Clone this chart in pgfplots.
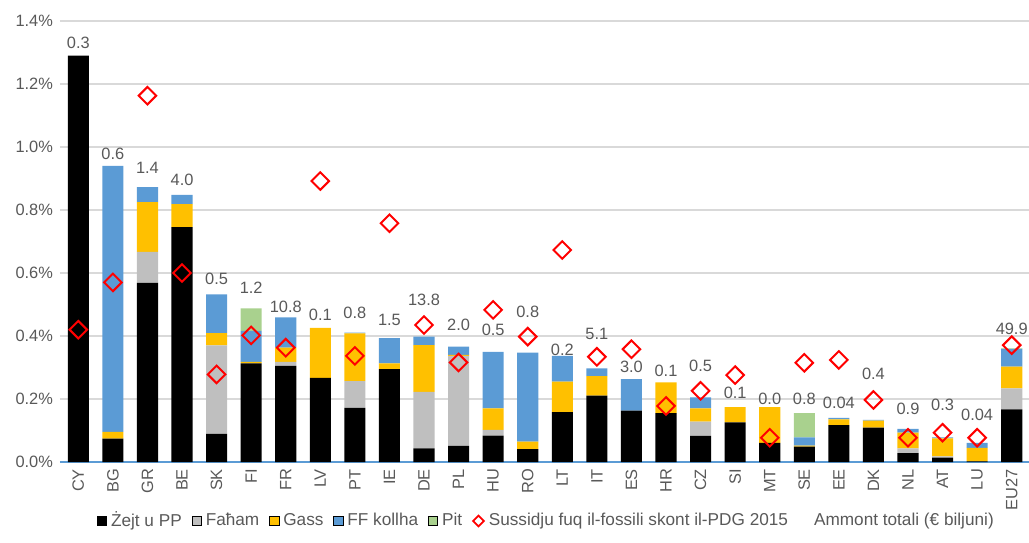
\documentclass[border=0pt]{standalone}
\usepackage{pgfplots}
\usepackage{pgfplotstable}
\pgfplotsset{compat=1.18}
\usepackage{fontspec}
\setmainfont{Liberation Sans}

\definecolor{cgray}{HTML}{BFBFBF}
\definecolor{cgas}{HTML}{FFC000}
\definecolor{cblue}{HTML}{5B9BD5}
\definecolor{cpit}{HTML}{A9D18E}
\definecolor{txt}{HTML}{595959}
\definecolor{gridc}{HTML}{D9D9D9}

% x: 0..27 = CY ... EU27
\pgfplotstableread{
x  blk    gry    gas    ff     pit    sub    ly     lab
0  1.290  0      0      0      0      0.420  1.330  0.3
1  0.074  0      0.022  0.844  0      0.570  0.978  0.6
2  0.569  0.098  0.158  0.048  0      1.163  0.933  1.4
3  0.746  0      0.073  0.029  0      0.600  0.895  4.0
4  0.089  0.281  0.039  0.123  0      0.278  0.581  0.5
5  0.313  0      0.005  0.098  0.072  0.402  0.552  1.2
6  0.305  0.013  0.045  0.096  0      0.363  0.492  10.8
7  0.267  0      0.159  0      0      0.892  0.467  0.1
8  0.172  0.085  0.151  0.003  0      0.337  0.473  0.8
9  0.295  0      0.018  0.080  0      0.758  0.451  1.5
10 0.043  0.180  0.148  0.027  0      0.435  0.514  13.8
11 0.051  0.286  0.003  0.026  0      0.316  0.435  2.0
12 0.084  0.018  0.068  0.180  0      0.483  0.419  0.5
13 0.041  0      0.024  0.282  0      0.398  0.476  0.8
14 0.158  0      0.097  0.082  0      0.673  0.356  0.2
15 0.211  0      0.062  0.024  0      0.334  0.406  5.1
16 0.163  0      0      0.100  0      0.358  0.302  3.0
17 0.155  0      0.098  0      0      0.178  0.289  0.1
18 0.083  0.045  0.042  0.035  0      0.226  0.305  0.5
19 0.126  0      0.048  0      0      0.276  0.219  0.1
20 0.061  0      0.113  0      0      0.077  0.200  0.0
21 0.049  0      0.003  0.026  0.077  0.315  0.200  0.8
22 0.117  0      0.018  0.005  0      0.324  0.187  0.04
23 0.109  0      0.022  0.003  0      0.197  0.279  0.4
24 0.028  0.015  0.050  0.012  0      0.077  0.168  0.9
25 0.014  0.004  0.057  0.003  0      0.093  0.181  0.3
26 0.002  0      0.043  0.016  0      0.077  0.149  0.04
27 0.167  0.067  0.069  0.056  0.002  0.371  0.422  49.9
}\data

\pgfplotsset{
  base/.style={
    scale only axis, width=484.5pt, height=220.5pt,
    at={(0,0)}, anchor=south west,
    xmin=-0.53, xmax=27.5, ymin=0, ymax=1.4,
    clip=false,
  },
  sq/.style={legend image code/.code={\fill[##1] (0pt,-2.3pt) rectangle (4.6pt,2.3pt);}},
  dia/.style={legend image code/.code={\draw[red, line width=0.9pt] (0pt,0pt) -- (2.7pt,2.7pt) -- (5.4pt,0pt) -- (2.7pt,-2.7pt) -- cycle;}},
}
\newcommand{\fnt}{\fontsize{8.2}{9.8}\selectfont}
\newcommand{\lfnt}{\fontsize{8.6}{10}\selectfont}

\begin{document}
\begin{tikzpicture}
\path[use as bounding box] (-30pt,-40pt) rectangle (484.5pt,231pt);
\begin{axis}[base,
  ybar stacked, bar width=0.61,
  axis x line*=bottom, axis y line*=left,
  x axis line style={cblue, line width=0.6pt},
  y axis line style={draw=none},
  xtick=data,
  xticklabels={CY,BG,GR,BE,SK,FI,FR,LV,PT,IE,DE,PL,HU,RO,LT,IT,ES,HR,CZ,SI,MT,SE,EE,DK,NL,AT,LU,EU27},
  xticklabel style={rotate=90, anchor=east, text=txt, font=\fnt},
  ytick={0,0.2,0.4,0.6,0.8,1.0,1.2,1.4},
  yticklabels={0.0\%,0.2\%,0.4\%,0.6\%,0.8\%,1.0\%,1.2\%,1.4\%},
  yticklabel style={text=txt, font=\fnt},
  ymajorgrids, grid style={gridc, line width=0.6pt},
  major tick length=0pt,
  legend columns=-1,
  legend style={at={(0.503,0)}, anchor=center, yshift=-29.5pt, draw=none, fill=none,
    font=\lfnt, text=txt, inner xsep=0pt,
    /tikz/every even column/.append style={column sep=3pt}},
  legend cell align=left,
]
\addplot[fill=black, draw=none, forget plot] table[x=x, y=blk] {\data};
\addplot[fill=cgray, draw=none, forget plot] table[x=x, y=gry] {\data};
\addplot[fill=cgas, draw=none, forget plot] table[x=x, y=gas] {\data};
\addplot[fill=cblue, draw=none, forget plot] table[x=x, y=ff] {\data};
\addplot[fill=cpit, draw=none, forget plot] table[x=x, y=pit] {\data};
\addlegendimage{sq, fill=black}
\addlegendentry{Żejt u PP}
\addlegendimage{sq, fill=cgray}
\addlegendentry{Faħam}
\addlegendimage{sq, fill=cgas}
\addlegendentry{Gass}
\addlegendimage{sq, fill=cblue}
\addlegendentry{FF kollha}
\addlegendimage{sq, fill=cpit}
\addlegendentry{Pit}
\addlegendimage{dia}
\addlegendentry{Sussidju fuq il-fossili skont il-PDG 2015}
\addlegendimage{empty legend}
\addlegendentry{\hspace{6pt}Ammont totali (€ biljuni)}
\end{axis}
\begin{axis}[base, axis lines=none, ticks=none]
\addplot[only marks, mark=square, mark size=3.1pt,
  mark options={rotate=45, draw=red, fill=none, line width=1pt}]
  table[x=x, y=sub] {\data};
\addplot[only marks, mark=none, nodes near coords, point meta=explicit symbolic,
  nodes near coords style={anchor=center, text=txt, font=\fnt}]
  table[x=x, y=ly, meta=lab] {\data};
\end{axis}
\end{tikzpicture}
\end{document}
